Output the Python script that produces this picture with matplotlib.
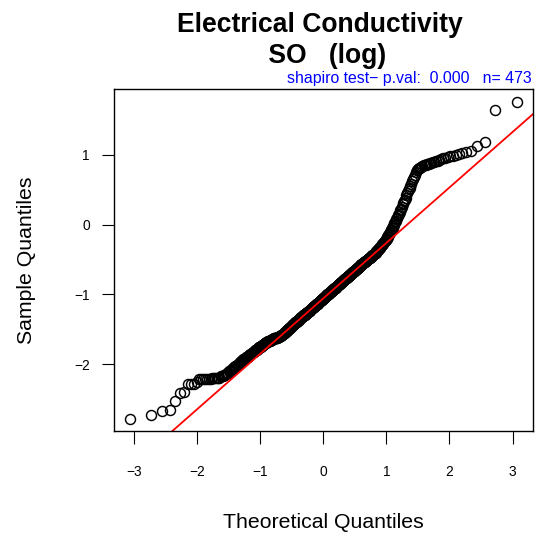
import numpy as np
import matplotlib
matplotlib.use("Agg")
import matplotlib.pyplot as plt
from statistics import NormalDist

# ---------------- data ----------------
title_line1 = "Electrical Conductivity "
title_line2 = " SO   (log)"
subtitle = "shapiro test\u2212 p.val:  0.000   n= 473"
x_label = "Theoretical Quantiles"
y_label = "Sample Quantiles"
x_ticks = [-3, -2, -1, 0, 1, 2, 3]
y_ticks = [-2, -1, 0, 1]

# sorted sample values (log electrical conductivity)
lower_tail = [-2.78, -2.73, -2.67, -2.66, -2.53, -2.41, -2.40, -2.29, -2.29, -2.29, -2.26,
              -2.21, -2.21, -2.21, -2.21, -2.21, -2.21, -2.21,
              -2.20, -2.20, -2.20, -2.20, -2.20, -2.20,
              -2.17, -2.17, -2.17, -2.15, -2.15, -2.13, -2.13]
lower_body = [-2.10, -2.09, -2.08, -2.07, -2.06, -2.05, -2.04,
              -2.03, -2.02, -2.01, -2.00, -1.99, -1.98, -1.97, -1.96,
              -1.95, -1.94, -1.93, -1.92, -1.92, -1.91, -1.90, -1.89,
              -1.89, -1.88, -1.87, -1.87, -1.86, -1.85, -1.84, -1.84, -1.83, -1.82,
              -1.82, -1.81, -1.80, -1.80, -1.79, -1.78, -1.78, -1.77, -1.76, -1.76, -1.75,
              -1.75, -1.74, -1.74, -1.73, -1.72, -1.72, -1.71, -1.71, -1.70, -1.69, -1.69, -1.68,
              -1.68, -1.68, -1.67, -1.67, -1.67, -1.66, -1.66, -1.66, -1.65, -1.65, -1.65, -1.64, -1.64,
              -1.64, -1.64, -1.63, -1.63, -1.63, -1.63, -1.62, -1.62, -1.62, -1.62, -1.61, -1.61, -1.61, -1.61,
              -1.605, -1.600, -1.597, -1.594, -1.591, -1.587, -1.582, -1.577, -1.572, -1.567, -1.562,
              -1.557, -1.552, -1.547, -1.542, -1.537]
middle_body = [-1.53, -1.53, -1.52, -1.52, -1.51, -1.50, -1.50, -1.49, -1.49, -1.48, -1.48, -1.47, -1.47, -1.46, -1.46, -1.45,
               -1.45, -1.44, -1.44, -1.43, -1.43, -1.42, -1.42, -1.41, -1.41, -1.40, -1.40, -1.39, -1.39, -1.39, -1.38, -1.38, -1.37,
               -1.37, -1.36, -1.36, -1.35, -1.35, -1.34, -1.34, -1.33, -1.33, -1.32, -1.32, -1.32, -1.31, -1.31, -1.30, -1.30, -1.30, -1.29,
               -1.29, -1.29, -1.28, -1.28, -1.27, -1.27, -1.26, -1.26, -1.25, -1.25, -1.25, -1.24, -1.24, -1.23, -1.23, -1.22, -1.22, -1.21,
               -1.21, -1.21, -1.20, -1.20, -1.19, -1.19, -1.18, -1.18, -1.18, -1.17, -1.17, -1.16, -1.16, -1.16, -1.15, -1.15, -1.14, -1.14, -1.14,
               -1.13, -1.13, -1.12, -1.12, -1.11, -1.11, -1.11, -1.10, -1.10, -1.09, -1.09, -1.08, -1.08, -1.08, -1.07, -1.07, -1.06, -1.06, -1.05,
               -1.05, -1.05, -1.04, -1.04, -1.03, -1.03, -1.02, -1.02, -1.01, -1.01, -1.01, -1.00, -1.00, -0.99, -0.99, -0.99, -0.98, -0.98,
               -0.97, -0.97, -0.96, -0.96, -0.96, -0.95, -0.95, -0.94, -0.94, -0.93, -0.93, -0.92, -0.92, -0.92, -0.91, -0.91, -0.90, -0.90, -0.90,
               -0.89, -0.89, -0.88, -0.88, -0.87, -0.87, -0.86, -0.86, -0.85, -0.85, -0.85, -0.84, -0.84, -0.83, -0.83, -0.82, -0.82, -0.82,
               -0.81, -0.81, -0.80, -0.80, -0.79, -0.79, -0.78, -0.78, -0.78, -0.77, -0.77, -0.76, -0.76, -0.75, -0.75, -0.75, -0.74, -0.74,
               -0.73, -0.73, -0.72, -0.72, -0.71, -0.71, -0.70, -0.70, -0.69, -0.69, -0.68, -0.68, -0.68, -0.67, -0.67, -0.66, -0.66,
               -0.65, -0.65, -0.64, -0.64, -0.63, -0.63, -0.62, -0.62, -0.61, -0.61, -0.60, -0.60, -0.59, -0.59, -0.58, -0.58,
               -0.57, -0.57, -0.56, -0.56, -0.55, -0.55, -0.54, -0.54, -0.53, -0.53, -0.525, -0.519, -0.515, -0.51, -0.50]
upper_body = [-0.50, -0.49, -0.49, -0.48, -0.48, -0.47, -0.47, -0.46, -0.46, -0.45, -0.45, -0.44, -0.43, -0.43, -0.42,
              -0.42, -0.41, -0.40, -0.40, -0.39, -0.38, -0.37, -0.37, -0.36, -0.35, -0.35, -0.34, -0.33,
              -0.32, -0.31, -0.30, -0.29, -0.28, -0.27, -0.26, -0.25, -0.24, -0.23, -0.22, -0.21,
              -0.20, -0.18, -0.17, -0.15, -0.13, -0.12, -0.10, -0.08, -0.07, -0.05, -0.04,
              -0.02, 0.00, 0.02, 0.04, 0.06, 0.08, 0.10, 0.12, 0.14, 0.16,
              0.18, 0.21, 0.23, 0.26, 0.29, 0.31, 0.34, 0.36,
              0.39, 0.42, 0.45, 0.48, 0.51, 0.53, 0.56, 0.59,
              0.62, 0.66, 0.69, 0.72, 0.76, 0.79,
              0.80, 0.81, 0.82, 0.83, 0.84, 0.85,
              0.855, 0.86, 0.87, 0.875, 0.88,
              0.89, 0.895, 0.90, 0.91,
              0.92, 0.93, 0.94,
              0.95, 0.96, 0.97,
              0.98, 0.99, 1.00]
upper_tail = [1.02, 1.03, 1.04, 1.05, 1.13, 1.19, 1.65, 1.76]

# ---------------- computation ----------------
sample = np.array(lower_tail + lower_body + middle_body + upper_body + upper_tail)
n = len(sample)
nd = NormalDist()
probs = (np.arange(1, n + 1) - 0.5) / n          # R ppoints for n > 10
theo = np.array([nd.inv_cdf(p) for p in probs])

q1, q3 = np.quantile(sample, [0.25, 0.75])
t1, t3 = nd.inv_cdf(0.25), nd.inv_cdf(0.75)
slope = (q3 - q1) / (t3 - t1)
intercept = q1 - slope * t1

# ---------------- figure ----------------
plt.rcParams['font.family'] = ['Liberation Sans', 'DejaVu Sans']
W, H = 537, 533
fig = plt.figure(figsize=(W / 100, H / 100), dpi=100)
left, right, top, bottom = 114, 532.7, 89.3, 431.3
ax = fig.add_axes([left / W, 1 - bottom / H, (right - left) / W, (bottom - top) / H])

ax.plot(theo, sample, linestyle='none', marker='o', markersize=7.2,
        markerfacecolor='none', markeredgecolor='black', markeredgewidth=1.05)
ax.axline((0, intercept), slope=slope, color='red', linewidth=1.3)

xr = theo.max() - theo.min()
yr = sample.max() - sample.min()
ax.set_xlim(theo.min() - 0.04 * xr, theo.max() + 0.04 * xr)
ax.set_ylim(sample.min() - 0.04 * yr, sample.max() + 0.04 * yr)

ax.set_xticks(x_ticks)
ax.set_xticklabels([str(t).replace('-', '\u2212') for t in x_ticks])
ax.set_yticks(y_ticks)
ax.set_yticklabels([str(t).replace('-', '\u2212') for t in y_ticks])
ax.tick_params(axis='both', direction='out', length=9, width=0.8, labelsize=9.9, colors='black')
ax.tick_params(axis='x', pad=15)
ax.tick_params(axis='y', pad=8.5)
for s in ax.spines.values():
    s.set_linewidth(1.0)

fig.text(323.4 / W, 1 - 522.4 / H, x_label, ha='center', va='center', fontsize=15.3)
fig.text(27 / W, 1 - 260.3 / H, y_label, ha='center', va='center', rotation=90, fontsize=15.3)

fig.text(323.3 / W, 1 - 31.7 / H, title_line1, ha='center', va='baseline',
         fontsize=19.1, fontweight='bold')
fig.text(323.3 / W, 1 - 62.7 / H, title_line2, ha='center', va='baseline',
         fontsize=19.1, fontweight='bold')
fig.text(531.7 / W, 1 - 83.5 / H, subtitle, ha='right', va='baseline',
         fontsize=11.4, color='blue')

fig.savefig('out.png', dpi=100)
